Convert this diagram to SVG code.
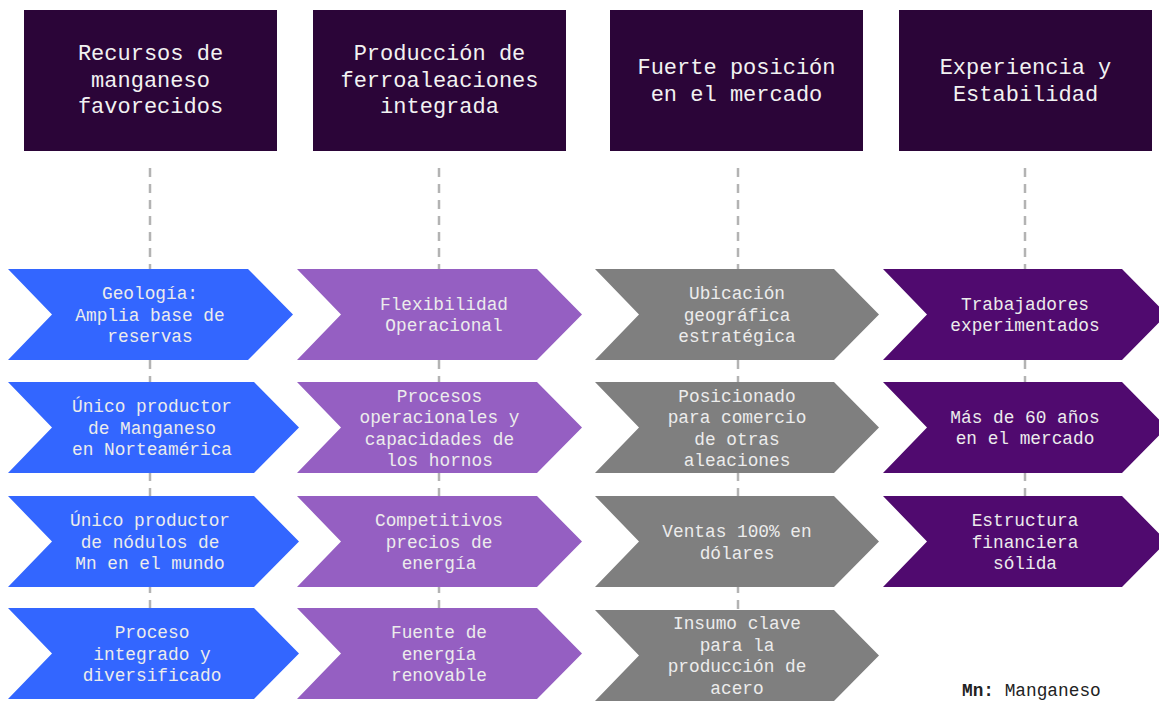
<svg xmlns="http://www.w3.org/2000/svg" width="1159" height="701" viewBox="0 0 1159 701">
<style>
.hdr{fill:#2b0538}
.ht{font-family:"Liberation Mono","Courier New",monospace;font-size:22px;fill:#f2f2f2;text-anchor:middle}
.ct{font-family:"Liberation Mono","Courier New",monospace;font-size:17.8px;fill:#ececec;text-anchor:middle}
.dash{stroke:#b3b3b3;stroke-width:2.5;stroke-dasharray:9 7;fill:none}
.c1{fill:#3366ff}.c2{fill:#955fc2}.c3{fill:#7f7f7f}.c4{fill:#500a6f}
.fn{font-family:"Liberation Mono","Courier New",monospace;font-size:17.8px;fill:#222}
</style>
<rect width="1159" height="701" fill="#ffffff"/>
<g id="connectors">
<line class="dash" x1="150" y1="168" x2="150" y2="610"/>
<line class="dash" x1="439" y1="168" x2="439" y2="610"/>
<line class="dash" x1="738" y1="168" x2="738" y2="612"/>
<line class="dash" x1="1025" y1="168" x2="1025" y2="498"/>
</g>
<g id="header1"><rect class="hdr" x="24" y="10" width="253" height="141"/>
<text class="ht" x="150.5" y="60">Recursos de</text><text class="ht" x="150.5" y="86.5">manganeso</text><text class="ht" x="150.5" y="113">favorecidos</text></g>
<g id="header2"><rect class="hdr" x="313" y="10" width="253" height="141"/>
<text class="ht" x="439.5" y="60">Producción de</text><text class="ht" x="439.5" y="86.5">ferroaleaciones</text><text class="ht" x="439.5" y="113">integrada</text></g>
<g id="header3"><rect class="hdr" x="610" y="10" width="253" height="141"/>
<text class="ht" x="736.5" y="74">Fuerte posición</text><text class="ht" x="736.5" y="100.5">en el mercado</text></g>
<g id="header4"><rect class="hdr" x="899" y="10" width="253" height="141"/>
<text class="ht" x="1025.5" y="74">Experiencia y</text><text class="ht" x="1025.5" y="100.5">Estabilidad</text></g>

<g id="c1r1"><polygon class="c1" points="8,269 248,269 293,314.5 248,360 8,360 52,314.5"/>
<text class="ct" x="150" y="299">Geología:</text><text class="ct" x="150" y="320.5">Amplia base de</text><text class="ct" x="150" y="342">reservas</text></g>
<g id="c1r2"><polygon class="c1" points="8,382 254,382 299,427.5 254,473 8,473 52,427.5"/>
<text class="ct" x="152" y="412">Único productor</text><text class="ct" x="152" y="433.5">de Manganeso</text><text class="ct" x="152" y="455">en Norteamérica</text></g>
<g id="c1r3"><polygon class="c1" points="8,496 254,496 299,541.5 254,587 8,587 52,541.5"/>
<text class="ct" x="150" y="526">Único productor</text><text class="ct" x="150" y="547.5">de nódulos de</text><text class="ct" x="150" y="569">Mn en el mundo</text></g>
<g id="c1r4"><polygon class="c1" points="8,608 254,608 299,653.5 254,699 8,699 52,653.5"/>
<text class="ct" x="152" y="638">Proceso</text><text class="ct" x="152" y="659.5">integrado y</text><text class="ct" x="152" y="681">diversificado</text></g>

<g id="c2r1"><polygon class="c2" points="297,269 537,269 582,314.5 537,360 297,360 341,314.5"/>
<text class="ct" x="444" y="309.5">Flexibilidad</text><text class="ct" x="444" y="331">Operacional</text></g>
<g id="c2r2"><polygon class="c2" points="297,382 537,382 582,427.5 537,473 297,473 341,427.5"/>
<text class="ct" x="439.5" y="401.5">Procesos</text><text class="ct" x="439.5" y="423">operacionales y</text><text class="ct" x="439.5" y="444.5">capacidades de</text><text class="ct" x="439.5" y="466">los hornos</text></g>
<g id="c2r3"><polygon class="c2" points="297,496 537,496 582,541.5 537,587 297,587 341,541.5"/>
<text class="ct" x="439" y="526">Competitivos</text><text class="ct" x="439" y="547.5">precios de</text><text class="ct" x="439" y="569">energía</text></g>
<g id="c2r4"><polygon class="c2" points="297,608 537,608 582,653.5 537,699 297,699 341,653.5"/>
<text class="ct" x="439" y="638">Fuente de</text><text class="ct" x="439" y="659.5">energía</text><text class="ct" x="439" y="681">renovable</text></g>

<g id="c3r1"><polygon class="c3" points="595,269 834,269 879,314.5 834,360 595,360 639,314.5"/>
<text class="ct" x="737" y="299">Ubicación</text><text class="ct" x="737" y="320.5">geográfica</text><text class="ct" x="737" y="342">estratégica</text></g>
<g id="c3r2"><polygon class="c3" points="595,382 834,382 879,427.5 834,473 595,473 639,427.5"/>
<text class="ct" x="737" y="401.5">Posicionado</text><text class="ct" x="737" y="423">para comercio</text><text class="ct" x="737" y="444.5">de otras</text><text class="ct" x="737" y="466">aleaciones</text></g>
<g id="c3r3"><polygon class="c3" points="595,496 834,496 879,541.5 834,587 595,587 639,541.5"/>
<text class="ct" x="737" y="537">Ventas 100% en</text><text class="ct" x="737" y="558.5">dólares</text></g>
<g id="c3r4"><polygon class="c3" points="595,610 834,610 879,655.5 834,701 595,701 639,655.5"/>
<text class="ct" x="737" y="629">Insumo clave</text><text class="ct" x="737" y="650.5">para la</text><text class="ct" x="737" y="672">producción de</text><text class="ct" x="737" y="693.5">acero</text></g>

<g id="c4r1"><polygon class="c4" points="883,269 1122,269 1167,314.5 1122,360 883,360 927,314.5"/>
<text class="ct" x="1025" y="309.5">Trabajadores</text><text class="ct" x="1025" y="331">experimentados</text></g>
<g id="c4r2"><polygon class="c4" points="883,382 1122,382 1167,427.5 1122,473 883,473 927,427.5"/>
<text class="ct" x="1025" y="422.5">Más de 60 años</text><text class="ct" x="1025" y="444">en el mercado</text></g>
<g id="c4r3"><polygon class="c4" points="883,496 1122,496 1167,541.5 1122,587 883,587 927,541.5"/>
<text class="ct" x="1025" y="526">Estructura</text><text class="ct" x="1025" y="547.5">financiera</text><text class="ct" x="1025" y="569">sólida</text></g>

<g id="footnote"><text class="fn" x="962" y="696"><tspan font-weight="bold">Mn:</tspan> Manganeso</text></g>
</svg>
